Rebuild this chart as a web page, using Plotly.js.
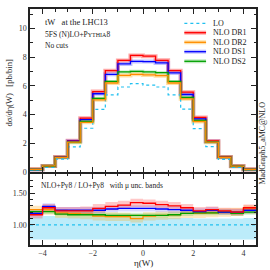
<!DOCTYPE html>
<html>
<head>
<meta charset="utf-8">
<script src="https://cdn.plot.ly/plotly-3.0.1.min.js"></script>
<style>html,body{margin:0;padding:0;background:#fff}#plot{width:270px;height:270px}</style>
</head>
<body>
<div id="plot"></div>
<script>
// ---- data ----
const etaEdges = [-4.5,-4,-3.5,-3,-2.5,-2,-1.5,-1,-0.5,0,0.5,1,1.5,2,2.5,3,3.5,4,4.5];
const loVals   = [0.14,0.33,0.90,1.75,3.05,4.36,5.38,5.92,6.15,6.05,5.92,5.38,4.38,3.02,1.77,0.89,0.33,0.14];
const dr1Vals  = [0.19,0.43,1.05,2.18,3.75,5.60,7.06,7.77,8.12,8.07,7.78,7.06,5.56,3.80,2.17,1.05,0.42,0.19];
const dr2Vals  = [0.19,0.43,1.03,2.08,3.46,5.03,6.20,6.73,6.80,6.76,6.71,6.20,5.10,3.52,2.08,1.03,0.41,0.18];
const ds1Vals  = [0.18,0.43,1.04,2.15,3.65,5.45,6.80,7.53,7.70,7.69,7.60,6.90,5.40,3.70,2.12,1.03,0.41,0.18];
const ds2Vals  = [0.18,0.42,1.02,2.08,3.52,5.13,6.31,6.97,7.01,6.97,6.92,6.31,5.20,3.59,2.10,1.03,0.41,0.18];

const ratioLo  = [1,1,1,1,1,1,1,1,1,1,1,1,1,1,1,1,1,1];
const ratioDR1 = [1.16,1.27,1.22,1.22,1.22,1.26,1.29,1.31,1.35,1.34,1.32,1.30,1.27,1.22,1.24,1.22,1.20,1.27];
const ratioDS1 = [1.18,1.29,1.23,1.23,1.23,1.23,1.25,1.26,1.26,1.26,1.25,1.24,1.23,1.21,1.23,1.20,1.20,1.23];
const ratioDS2 = [1.21,1.21,1.17,1.16,1.16,1.16,1.15,1.15,1.15,1.15,1.15,1.16,1.18,1.19,1.19,1.20,1.18,1.20];
const ratioDR2 = [1.24,1.24,1.19,1.18,1.17,1.14,1.13,1.13,1.10,1.14,1.15,1.16,1.18,1.18,1.19,1.20,1.21,1.25];

const bandLoLow   = [0.77,0.77,0.77,0.77,0.77,0.77,0.77,0.77,0.77,0.77,0.77,0.77,0.77,0.77,0.77,0.77,0.77,0.77];
const bandLoHigh  = [1.13,1.14,1.12,1.12,1.12,1.12,1.11,1.11,1.11,1.11,1.11,1.11,1.11,1.10,1.10,1.10,1.10,1.11];
const bandDR1Low  = [1.10,1.21,1.16,1.16,1.16,1.20,1.23,1.25,1.28,1.28,1.26,1.24,1.21,1.17,1.18,1.17,1.15,1.21];
const bandDR1High = [1.22,1.33,1.28,1.28,1.29,1.33,1.36,1.38,1.41,1.40,1.38,1.36,1.33,1.28,1.29,1.27,1.26,1.32];
const bandDS1Low  = [1.13,1.24,1.18,1.18,1.18,1.18,1.20,1.21,1.21,1.21,1.20,1.19,1.18,1.17,1.18,1.16,1.16,1.18];
const bandDS1High = [1.23,1.34,1.28,1.28,1.28,1.28,1.30,1.31,1.31,1.31,1.30,1.29,1.28,1.26,1.28,1.25,1.25,1.28];
const bandDS2Low  = [1.17,1.17,1.13,1.12,1.12,1.12,1.11,1.11,1.11,1.11,1.11,1.12,1.14,1.15,1.15,1.16,1.14,1.16];
const bandDS2High = [1.25,1.25,1.21,1.20,1.20,1.20,1.19,1.19,1.19,1.19,1.19,1.20,1.22,1.23,1.23,1.24,1.22,1.24];
const bandDR2Low  = [1.16,1.16,1.11,1.10,1.09,1.07,1.06,1.06,1.04,1.07,1.08,1.09,1.11,1.11,1.12,1.13,1.14,1.17];
const bandDR2High = [1.30,1.30,1.25,1.24,1.23,1.21,1.20,1.19,1.17,1.20,1.21,1.22,1.24,1.24,1.25,1.26,1.27,1.31];

const legendLabels = ['LO','NLO DR1','NLO DR2','NLO DS1','NLO DS2'];

// ---- styles ----
const C = {lo:'#20c0f0', dr1:'#ff0000', dr2:'#ff8c00', ds1:'#0000ff', ds2:'#00a000'};
const H = {lo:'rgba(32,192,240,0.30)', dr1:'rgba(255,0,0,0.22)', dr2:'rgba(255,165,0,0.25)', ds1:'rgba(60,60,255,0.20)', ds2:'rgba(0,170,0,0.18)'};
const FONT = 'Liberation Serif, Times New Roman, serif';

function stepY(v){ return v.concat([v[v.length-1]]); }
function line(vals, color, width, dash, xa, ya, opacity){
  return {x: etaEdges, y: stepY(vals), type:'scatter', mode:'lines',
    line:{shape:'hv', color:color, width:width, dash:dash||'solid'},
    opacity: opacity===undefined?1:opacity, xaxis:xa, yaxis:ya, showlegend:false, hoverinfo:'skip'};
}
function band(low, high, fillcolor){
  return [
    {x: etaEdges, y: stepY(low), type:'scatter', mode:'lines', line:{shape:'hv', width:0, color:'rgba(0,0,0,0)'},
     xaxis:'x2', yaxis:'y2', showlegend:false, hoverinfo:'skip'},
    {x: etaEdges, y: stepY(high), type:'scatter', mode:'lines', line:{shape:'hv', width:0, color:'rgba(0,0,0,0)'},
     fill:'tonexty', fillcolor:fillcolor, xaxis:'x2', yaxis:'y2', showlegend:false, hoverinfo:'skip'}
  ];
}

const traces = [];
// main halos
traces.push(line(dr1Vals, 'rgba(255,0,0,0.35)', 4, 'solid', 'x', 'y'));
traces.push(line(ds1Vals, 'rgba(80,80,255,0.35)', 4, 'solid', 'x', 'y'));
traces.push(line(dr2Vals, 'rgba(255,165,0,0.35)', 4, 'solid', 'x', 'y'));
traces.push(line(ds2Vals, 'rgba(0,170,0,0.25)', 3, 'solid', 'x', 'y'));
// main lines
traces.push(line(loVals,  C.lo,  1.2, 'dot', 'x', 'y'));
traces.push(line(dr1Vals, C.dr1, 1.3, 'solid', 'x', 'y'));
traces.push(line(ds1Vals, C.ds1, 1.3, 'solid', 'x', 'y'));
traces.push(line(ds2Vals, C.ds2, 1.3, 'solid', 'x', 'y'));
traces.push(line(dr2Vals, C.dr2, 1.3, 'solid', 'x', 'y'));
// ratio bands
traces.push(...band(bandLoLow, bandLoHigh, H.lo));
traces.push(...band(bandDR2Low, bandDR2High, H.dr2));
traces.push(...band(bandDS2Low, bandDS2High, H.ds2));
traces.push(...band(bandDS1Low, bandDS1High, H.ds1));
traces.push(...band(bandDR1Low, bandDR1High, H.dr1));
// ratio lines
traces.push(line(ratioLo,  C.lo,  1.2, 'dot', 'x2', 'y2'));
traces.push(line(ratioDR2, C.dr2, 1.3, 'solid', 'x2', 'y2'));
traces.push(line(ratioDS2, C.ds2, 1.3, 'solid', 'x2', 'y2'));
traces.push(line(ratioDS1, C.ds1, 1.3, 'solid', 'x2', 'y2'));
traces.push(line(ratioDR1, C.dr1, 1.3, 'solid', 'x2', 'y2'));

const axBase = {showline:true, mirror:'ticks', linecolor:'#222', linewidth:1.6, ticks:'inside',
  tickcolor:'#222', tickwidth:1, ticklen:5, showgrid:false, zeroline:false,
  tickfont:{family:FONT, size:8, color:'#333'}};

// legend drawn with shapes + annotations
const legX0 = 0.683, legX1 = 0.779, legTX = 0.801;
const legY = [0.9394, 0.8996, 0.8589, 0.8191, 0.7784];
const legStyle = [
  {c:C.lo, dash:'dot', halo:null},
  {c:C.dr1, dash:'solid', halo:'rgba(255,0,0,0.35)'},
  {c:C.dr2, dash:'solid', halo:'rgba(255,165,0,0.35)'},
  {c:C.ds1, dash:'solid', halo:'rgba(80,80,255,0.35)'},
  {c:C.ds2, dash:'solid', halo:'rgba(0,170,0,0.25)'}
];
const shapes = [];
const annotations = [];
legendLabels.forEach((lab,i)=>{
  const s = legStyle[i];
  if (s.halo) shapes.push({type:'line', xref:'paper', yref:'paper', x0:legX0, x1:legX1, y0:legY[i], y1:legY[i], line:{color:s.halo, width:4}});
  shapes.push({type:'line', xref:'paper', yref:'paper', x0:legX0, x1:legX1, y0:legY[i], y1:legY[i], line:{color:s.c, width:1.3, dash:s.dash}});
  annotations.push({xref:'paper', yref:'paper', x:legTX, y:legY[i], xanchor:'left', yanchor:'middle', showarrow:false,
    text:lab, font:{family:FONT, size:8, color:'#222'}});
});

annotations.push(
  {xref:'paper', yref:'paper', x:0.056, y:0.944, xanchor:'left', yanchor:'middle', showarrow:false,
   text:'tW   at the LHC13', font:{family:FONT, size:8.5, color:'#222'}},
  {xref:'paper', yref:'paper', x:0.056, y:0.893, xanchor:'left', yanchor:'middle', showarrow:false,
   text:'5FS (N)LO+P<span style="font-size:6px">YTHIA</span>8', font:{family:FONT, size:7.5, color:'#222'}},
  {xref:'paper', yref:'paper', x:0.056, y:0.847, xanchor:'left', yanchor:'middle', showarrow:false,
   text:'No cuts', font:{family:FONT, size:7.5, color:'#222'}},
  {xref:'paper', yref:'paper', x:0.038, y:0.253, xanchor:'left', yanchor:'middle', showarrow:false,
   text:'NLO+Py8 / LO+Py8   with μ unc. bands', font:{family:FONT, size:7.5, color:'#222'}},
  {xref:'paper', yref:'paper', x:-0.097, y:0.646, xanchor:'center', yanchor:'middle', showarrow:false, textangle:-90,
   text:'dσ/dη(W)   [pb/bin]', font:{family:FONT, size:8.5, color:'#222'}},
  {xref:'paper', yref:'paper', x:1.031, y:0.43, xanchor:'center', yanchor:'middle', showarrow:false, textangle:-90,
   text:'MadGraph5_aMC@NLO', font:{family:FONT, size:8, color:'#222'}},
  {xref:'paper', yref:'paper', x:0.5, y:-0.076, xanchor:'center', yanchor:'middle', showarrow:false,
   text:'η(W)', font:{family:FONT, size:9, color:'#222'}}
);

const layout = {
  width:270, height:270, paper_bgcolor:'#fff', plot_bgcolor:'#fff',
  margin:{l:30, r:14, t:9, b:25}, showlegend:false,
  xaxis: Object.assign({}, axBase, {domain:[0,1], range:[-4.5,4.5], anchor:'y', showticklabels:false,
    tickvals:[-4,-2,0,2,4], minor:{dtick:0.5, ticklen:2.5, tickcolor:'#222', ticks:'inside'}}),
  yaxis: Object.assign({}, axBase, {domain:[0.309,1], range:[0,11.35], anchor:'x',
    tickvals:[0,2,4,6,8,10], minor:{dtick:1, ticklen:2.5, tickcolor:'#222', ticks:'inside'}}),
  xaxis2: Object.assign({}, axBase, {domain:[0,1], range:[-4.5,4.5], anchor:'y2',
    tickvals:[-4,-2,0,2,4], minor:{dtick:0.5, ticklen:2.5, tickcolor:'#222', ticks:'inside'}}),
  yaxis2: Object.assign({}, axBase, {domain:[0,0.301], range:[0.685,1.80], anchor:'x2',
    tickvals:[1.0,1.5], tickformat:'.2f', minor:{dtick:0.1, ticklen:2.5, tickcolor:'#222', ticks:'inside'}}),
  shapes: shapes, annotations: annotations
};

Plotly.newPlot('plot', traces, layout, {staticPlot:true, displayModeBar:false});
</script>
</body>
</html>
